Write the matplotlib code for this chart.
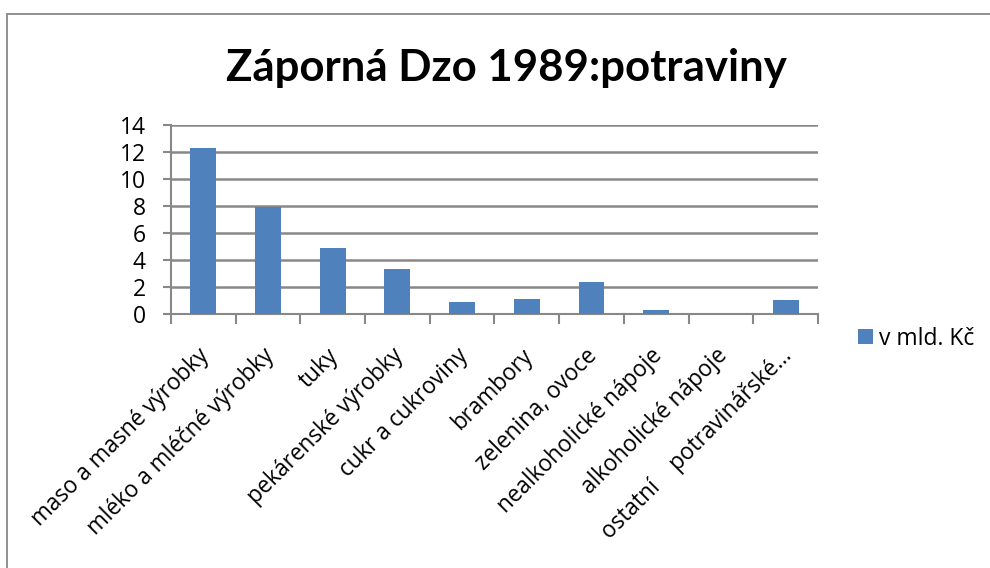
import numpy as np
import matplotlib
matplotlib.use('Agg')
import matplotlib.pyplot as plt
from matplotlib.patches import Rectangle

plt.rcParams['font.family'] = ['Open Sans', 'DejaVu Sans']

categories = ['maso a masné výrobky', 'mléko a mléčné výrobky', 'tuky',
              'pekárenské výrobky', 'cukr a cukroviny', 'brambory',
              'zelenina, ovoce', 'nealkoholické nápoje', 'alkoholické nápoje',
              'ostatní    potravinářské…']
values = [12.32, 7.9, 4.91, 3.31, 0.87, 1.08, 2.37, 0.27, 0.0, 1.04]
series_name = 'v mld. Kč'
yticks = [0, 2, 4, 6, 8, 10, 12, 14]

bar_color = '#4f81bd'
grid_color = '#888888'

fig = plt.figure(figsize=(9.9, 5.68), dpi=100)
# chart frame: only left and top edges fall inside the image
fig.patches.append(Rectangle((0.007, -0.05), 1.1, 1.026, transform=fig.transFigure,
                             fill=False, edgecolor='#888888', linewidth=1.3))

ax = fig.add_axes([0.1727, 0.4472, 0.6535, 0.3327])
x = np.arange(len(categories))
ax.bar(x, values, width=0.4, color=bar_color, label=series_name, zorder=3)

ax.set_xlim(-0.5, len(categories) - 0.5)
ax.set_ylim(0, 14)
ax.set_yticks(yticks)
ax.yaxis.grid(True, color=grid_color, linewidth=1.8, zorder=0)
ax.set_axisbelow(True)

# ticks sit on the category boundaries, labels are drawn by hand
ax.set_xticks(np.arange(len(categories) + 1) - 0.5)
ax.set_xticklabels([])
ax.tick_params(axis='x', length=7, width=1.5, color=grid_color)
ax.tick_params(axis='y', length=6, width=1.5, color=grid_color, labelsize=16.5, pad=12)
for i, lab in enumerate(categories):
    ax.text(i + 0.04, -2.85, lab, rotation=45, ha='right', va='center',
            rotation_mode='anchor', fontsize=16.3)

for s in ['top', 'right']:
    ax.spines[s].set_visible(False)
for s in ['left', 'bottom']:
    ax.spines[s].set_color(grid_color)
    ax.spines[s].set_linewidth(1.5)

fig.text(0.512, 0.88, 'Záporná Dzo 1989:potraviny', ha='center', va='center',
         fontsize=31.5, fontweight='bold', family=['Lato', 'DejaVu Sans'])

ax.legend(loc='center left', bbox_to_anchor=(1.03, -0.13), frameon=False,
          fontsize=16.5, handlelength=0.66, handleheight=0.66, handletextpad=0.25)

fig.savefig('out.png', dpi=100)
